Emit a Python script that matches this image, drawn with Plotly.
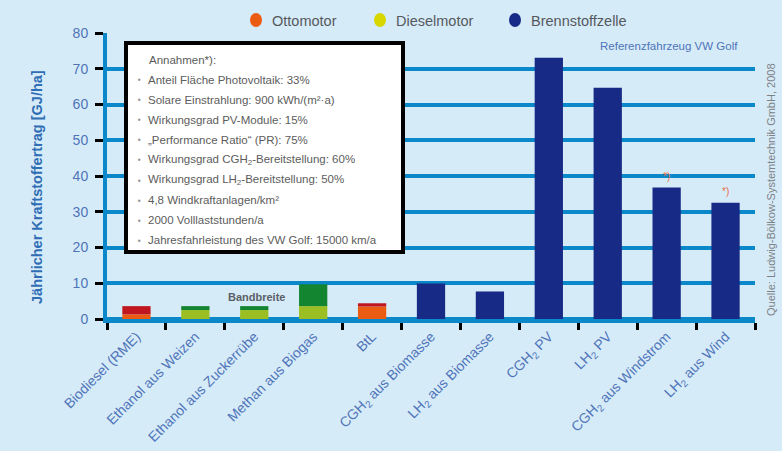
import plotly.graph_objects as go

# Kategorien (Kraftstoffpfade)
kategorien = [
    "Biodiesel (RME)",
    "Ethanol aus Weizen",
    "Ethanol aus Zuckerrübe",
    "Methan aus Biogas",
    "BtL",
    "CGH<sub>2</sub> aus Biomasse",
    "LH<sub>2</sub> aus Biomasse",
    "CGH<sub>2</sub> PV",
    "LH<sub>2</sub> PV",
    "CGH<sub>2</sub> aus Windstrom",
    "LH<sub>2</sub> aus Wind",
]

# Jährlicher Kraftstoffertrag [GJ/ha]: unterer Wert und oberer Wert der Bandbreite
ertrag_unten = [1.3, 2.5, 2.5, 3.6, 3.5, 9.9, 7.7, 73.1, 64.7, 36.8, 32.5]
ertrag_oben = [3.6, 3.6, 3.6, 9.7, 4.4, 9.9, 7.7, 73.1, 64.7, 36.8, 32.5]

# Farben je Balken
farben_unten = ["#ec5b12", "#9bbf22", "#9bbf22", "#9bbf22", "#ec5b12",
                "#172a85", "#172a85", "#172a85", "#172a85", "#172a85", "#172a85"]
farben_oben = ["#c0161f", "#138430", "#138430", "#138430", "#c0161f",
               "#172a85", "#172a85", "#172a85", "#172a85", "#172a85", "#172a85"]

# Legende
legende_text = ["Ottomotor", "Dieselmotor", "Brennstoffzelle"]
legende_farben = ["#ec5b12", "#d8d800", "#172a85"]

# Annahmen im Textkasten
annahmen_titel = "Annahmen*):"
annahmen = [
    "Anteil Fläche Photovoltaik: 33%",
    "Solare Einstrahlung: 900 kWh/(m²·a)",
    "Wirkungsgrad PV-Module: 15%",
    "„Performance Ratio“ (PR): 75%",
    "Wirkungsgrad CGH<sub>2</sub>-Bereitstellung: 60%",
    "Wirkungsgrad LH<sub>2</sub>-Bereitstellung: 50%",
    "4,8 Windkraftanlagen/km²",
    "2000 Volllaststunden/a",
    "Jahresfahrleistung des VW Golf: 15000 km/a",
]

# Markierte Pfade (Fußnote *)
fussnote_kat = [kategorien[9], kategorien[10]]
fussnote_wert = [ertrag_oben[9], ertrag_oben[10]]

BG = "#d6ebf8"
GRID = "#0a88c9"
BLAU_TEXT = "#4f74b8"
FONT = "Liberation Sans, Arial, sans-serif"

W, H = 782, 451
ML, MR, MT, MB = 107, 27, 33, 132
PW, PH = W - ML - MR, H - MT - MB


def px_x(x):
    return (x - ML) / PW


def px_y(y):
    return (H - MB - y) / PH


def text_at(x, y, text, size, color, xanchor="center", angle=0, bold=False):
    return dict(x=px_x(x), y=px_y(y), xref="paper", yref="paper",
                text=f"<b>{text}</b>" if bold else text, showarrow=False,
                xanchor=xanchor, yanchor="middle", textangle=angle,
                font=dict(family=FONT, size=size, color=color))


fig = go.Figure()
fig.add_trace(go.Bar(
    x=kategorien, y=ertrag_unten, marker=dict(color=farben_unten, line=dict(width=0)),
    showlegend=False, hoverinfo="x+y",
))
fig.add_trace(go.Bar(
    x=kategorien, y=[o - u for o, u in zip(ertrag_oben, ertrag_unten)],
    base=ertrag_unten, marker=dict(color=farben_oben, line=dict(width=0)),
    showlegend=False, hoverinfo="x+y",
))

annotations = []
shapes = []

# Fußnotenzeichen über den Balken
for k, v in zip(fussnote_kat, fussnote_wert):
    annotations.append(dict(x=k, y=v, text="*)", showarrow=False, yshift=11,
                            xanchor="center", yanchor="middle",
                            font=dict(family=FONT, size=10, color="#e8704a")))

# Bandbreite-Beschriftung
annotations.append(text_at(256, 297, "Bandbreite", 11, "#5a5f66", bold=True))

# Textkasten mit Annahmen
shapes.append(dict(type="rect", xref="paper", yref="paper",
                   x0=px_x(126), x1=px_x(403), y0=px_y(252), y1=px_y(43),
                   fillcolor="white", line=dict(color="black", width=4), layer="above"))
annotations.append(text_at(147, 60, annahmen_titel, 11.5, "#5c5c5c", xanchor="left"))
for i, t in enumerate(annahmen):
    yy = 79.5 + i * 20.1
    annotations.append(text_at(139, yy, "▪", 8, "#8a8a8a"))
    annotations.append(text_at(146, yy, t, 11.5, "#5c5c5c", xanchor="left"))

# Legende oben
leg_marker_x = [256, 380, 515]
for lx, txt, col in zip(leg_marker_x, legende_text, legende_farben):
    shapes.append(dict(type="circle", xref="paper", yref="paper",
                       xsizemode="pixel", ysizemode="pixel",
                       xanchor=px_x(lx), yanchor=px_y(20),
                       x0=-6, x1=6, y0=-7, y1=7,
                       fillcolor=col, line=dict(width=0)))
    annotations.append(text_at(lx + 14, 21, txt, 14.5, "#55595e", xanchor="left"))

# Referenzfahrzeug
annotations.append(text_at(740, 46, "Referenzfahrzeug VW Golf", 11.5, BLAU_TEXT, xanchor="right"))

# Achsentitel
annotations.append(text_at(37, 187, "Jährlicher Kraftstoffertrag [GJ/ha]", 14.5, "#2f6db5",
                           angle=-90, bold=True))

# Quelle rechts
annotations.append(text_at(771, 190, "Quelle: Ludwig-Bölkow-Systemtechnik GmbH, 2008",
                           11, "#7d8186", angle=-90))

fig.update_layout(
    width=W, height=H,
    margin=dict(l=ML, r=MR, t=MT, b=MB, autoexpand=False),
    paper_bgcolor=BG, plot_bgcolor=BG,
    barmode="overlay", bargap=0.52,
    font=dict(family=FONT),
    annotations=annotations, shapes=shapes,
    showlegend=False,
)
fig.update_xaxes(
    type="category", showgrid=False, showline=True, linecolor=GRID, linewidth=4,
    ticks="outside", tickson="boundaries", ticklen=7, tickwidth=3, tickcolor="black",
    tickangle=-45, tickfont=dict(family=FONT, size=14, color=BLAU_TEXT),
    automargin=False,
)
fig.update_yaxes(
    range=[0, 80], dtick=10, showgrid=True, gridcolor=GRID, gridwidth=4,
    zeroline=True, zerolinecolor=GRID, zerolinewidth=4,
    showline=True, linecolor=GRID, linewidth=4,
    ticks="outside", ticklen=8, tickwidth=3, tickcolor="black",
    tickfont=dict(family=FONT, size=14, color=BLAU_TEXT), ticklabelstandoff=4,
    automargin=False,
)

fig.write_html("out.html")
